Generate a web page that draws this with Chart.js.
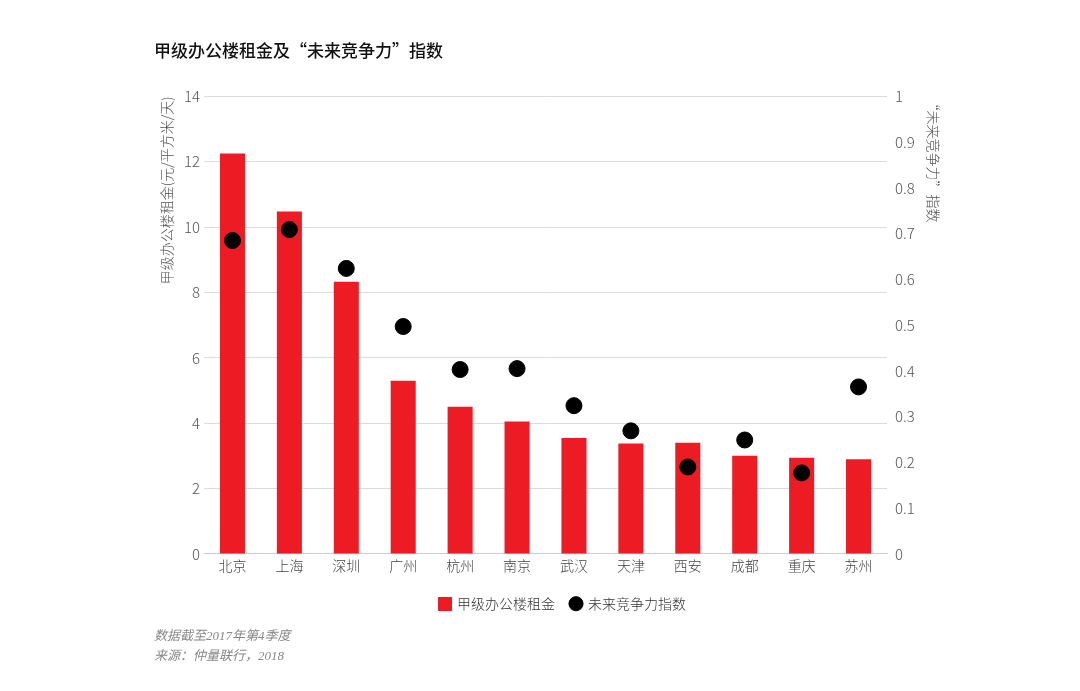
<!DOCTYPE html>
<html>
<head>
<meta charset="utf-8">
<script src="https://cdn.jsdelivr.net/npm/chart.js@4/dist/chart.umd.min.js"></script>
<style>
  html, body { margin: 0; padding: 0; background: #fff; }
  #wrap { width: 1080px; height: 691px; }
</style>
</head>
<body>
<div id="wrap"><canvas id="chart" width="1080" height="691"></canvas></div>
<script>
// city names on the x axis
var cities = ['北京', '上海', '深圳', '广州', '杭州', '南京', '武汉', '天津', '西安', '成都', '重庆', '苏州'];
// grade A office rent (yuan / m2 / day)
var rent = [12.25, 10.48, 8.33, 5.3, 4.5, 4.05, 3.55, 3.38, 3.4, 3.0, 2.94, 2.9];
// "future competitiveness" index
var index = [0.685, 0.709, 0.624, 0.497, 0.403, 0.405, 0.324, 0.269, 0.19, 0.249, 0.177, 0.365];

var fontFamily = "'Noto Sans CJK SC', 'Noto Sans', sans-serif";
var red = '#ed1c24';

// small red square for the legend
var square = document.createElement('canvas');
square.width = 14;
square.height = 14;
var sctx = square.getContext('2d');
sctx.fillStyle = red;
sctx.fillRect(0, 0, 14, 14);

var ctx = document.getElementById('chart').getContext('2d');
var myChart = new Chart(ctx, {
  type: 'bar',
  data: {
    labels: cities,
    datasets: [{
      label: '甲级办公楼租金',
      data: rent,
      backgroundColor: red,
      borderWidth: 0,
      barPercentage: 0.44,
      categoryPercentage: 1,
      pointStyle: square,
      yAxisID: 'y',
      order: 1
    },
    {
      type: 'line',
      label: '未来竞争力指数',
      data: index,
      showLine: false,
      backgroundColor: '#000',
      borderColor: '#000',
      pointRadius: 8,
      pointHoverRadius: 8,
      pointStyle: 'circle',
      yAxisID: 'y1',
      order: 0
    }]
  },
  options: {
    responsive: false,
    animation: false,
    layout: {
      padding: { left: 154, right: 108, top: 0, bottom: 0 }
    },
    plugins: {
      title: {
        display: true,
        text: '甲级办公楼租金及“未来竞争力”指数',
        align: 'start',
        color: '#111',
        font: { family: fontFamily, size: 17, weight: '500' },
        padding: { top: 40, bottom: 36 }
      },
      subtitle: {
        display: true,
        position: 'bottom',
        align: 'start',
        text: ['数据截至2017年第4季度', '来源：仲量联行，2018'],
        color: '#888',
        font: { family: "'Liberation Serif', 'Noto Sans CJK SC', serif", size: 13, style: 'italic', lineHeight: 1.55 },
        padding: { top: 6, bottom: 24 }
      },
      legend: {
        position: 'bottom',
        labels: {
          usePointStyle: true,
          boxWidth: 10,
          boxHeight: 10,
          padding: 16,
          color: '#333',
          font: { family: fontFamily, size: 14, weight: '300' },
          sort: function(a, b) { return a.datasetIndex - b.datasetIndex; }
        }
      },
      tooltip: { enabled: false }
    },
    scales: {
      x: {
        grid: { display: false, drawTicks: false },
        border: { color: '#ccc', width: 1 },
        afterFit: function(scale) { scale.height += 4; },
        ticks: {
          color: '#444',
          padding: 3,
          font: { family: fontFamily, size: 14, weight: '300' }
        }
      },
      y: {
        position: 'left',
        min: 0,
        max: 14,
        afterFit: function(scale) { scale.width = 50; },
        grid: { color: '#dcdcdc', drawTicks: false },
        border: { display: false },
        ticks: {
          stepSize: 2,
          padding: 4,
          color: '#555',
          font: { family: fontFamily, size: 15, weight: '300' }
        },
        title: {
          display: true,
          text: '甲级办公楼租金(元/平方米/天)',
          align: 'end',
          color: '#555',
          font: { family: fontFamily, size: 14, weight: '300' },
          padding: { top: 4, bottom: 4 }
        }
      },
      y1: {
        position: 'right',
        min: 0,
        max: 1,
        afterFit: function(scale) { scale.width = 85; },
        grid: { display: false, drawTicks: false },
        border: { display: false },
        ticks: {
          stepSize: 0.1,
          padding: 8,
          color: '#555',
          font: { family: fontFamily, size: 15, weight: '300' },
          callback: function(value) { return String(Math.round(value * 10) / 10); }
        },
        title: {
          display: true,
          text: '“未来竞争力”指数',
          align: 'end',
          color: '#555',
          font: { family: fontFamily, size: 14, weight: '300' },
          padding: { top: 30, bottom: 4 }
        }
      }
    }
  }
});
</script>
</body>
</html>
